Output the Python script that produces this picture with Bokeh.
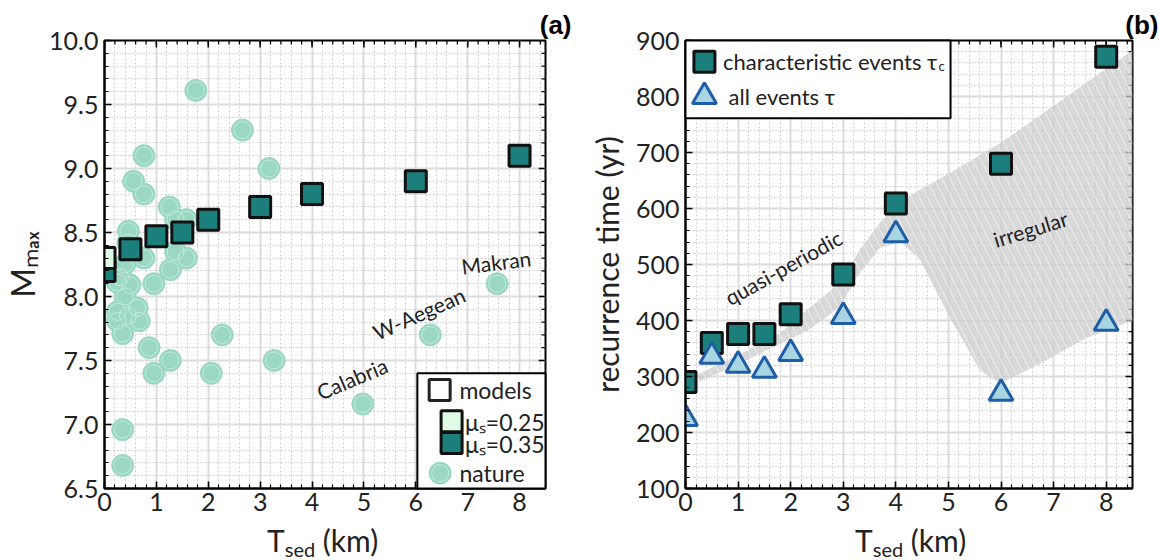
import math
import numpy as np
from bokeh.plotting import figure
from bokeh.layouts import row, column
from bokeh.models import Range1d, SingleIntervalTicker, Label, PrintfTickFormatter, Div
from bokeh.embed import file_html
from bokeh.resources import INLINE

# ---------------- data ----------------
# panel (a): models
model_T = [0, 0.5, 1, 1.5, 2, 3, 4, 6, 8]
mmax_mu035 = [8.2, 8.37, 8.47, 8.5, 8.6, 8.7, 8.8, 8.9, 9.1]
model_T_mu025 = [0]
mmax_mu025 = [8.3]

# panel (a): nature
nature_T = [1.76, 2.66, 0.76, 3.17, 0.56, 0.76, 1.25, 1.37, 1.58, 0.46,
            0.45, 1.37, 1.58, 0.76, 1.27, 0.39, 0.30, 0.95, 0.25, 0.49,
            0.40, 0.25, 0.63, 0.25, 0.67, 0.45, 0.35, 0.86, 1.27, 0.95,
            2.06, 2.27, 3.27, 4.98, 6.28, 7.57, 0.35, 0.35]
nature_M = [9.61, 9.30, 9.10, 9.00, 8.90, 8.80, 8.70, 8.60, 8.60, 8.51,
            8.42, 8.35, 8.30, 8.30, 8.21, 8.25, 8.15, 8.10, 8.11, 8.09,
            8.00, 7.88, 7.91, 7.81, 7.81, 7.85, 7.71, 7.60, 7.50, 7.40,
            7.40, 7.70, 7.50, 7.16, 7.70, 8.10, 6.96, 6.68]

# panel (b): recurrence times
tau_c = [290, 360, 376, 376, 411, 482, 609, 680, 871]
tau_all = [225, 336, 320, 311, 341, 407, 553, 270, 395]

# panel (b): shaded regime region (upper and lower boundary)
region_upper_T = [0.25, 1.0, 1.8, 2.45, 3.0, 3.3, 3.7, 4.2, 5.0, 6.0, 7.0, 8.0, 8.5]
region_upper_tau = [305, 338, 378, 430, 472, 525, 575, 620, 662, 718, 783, 850, 882]
region_lower_T = [8.5, 7.6, 6.75, 6.1, 5.9, 5.6, 5.0, 4.47, 4.1, 3.7, 3.26, 2.95, 2.33, 1.8, 1.0, 0.25]
region_lower_tau = [400, 368, 323, 293, 292, 311, 410, 507, 540, 530, 478, 425, 382, 358, 322, 290]

# ---------------- style ----------------
FONT = "Lato"
TXT = "#222222"
TEAL = "#1b7f7b"
PALE = "#dffbe6"
MINT = "#9ad8c3"
TRI_FILL = "#a9d4e1"
TRI_LINE = "#1f5ea6"

W1, W2, H, HL = 584, 575, 528, 32
FRAME = 448


def ticker(interval):
    return SingleIntervalTicker(interval=interval, num_minor_ticks=5)


def setup(p, xint, yint, yfmt=None):
    p.xaxis.ticker = ticker(xint)
    p.yaxis.ticker = ticker(yint)
    if yfmt:
        p.yaxis.formatter = PrintfTickFormatter(format=yfmt)
    for ax in p.axis:
        ax.major_label_text_font = FONT
        ax.major_label_text_font_size = "25px"
        ax.major_label_text_color = TXT
        ax.axis_line_width = 2
        ax.axis_line_color = "black"
        ax.major_tick_in = 7
        ax.major_tick_out = 0
        ax.minor_tick_in = 4
        ax.minor_tick_out = 0
        ax.major_tick_line_width = 1.5
        ax.minor_tick_line_width = 1.2
        ax.major_tick_line_color = "black"
        ax.minor_tick_line_color = "black"
    p.xaxis.major_label_standoff = 4
    p.yaxis.major_label_standoff = 6
    for g in (p.xgrid, p.ygrid):
        g.grid_line_color = "#dcdcdc"
        g.grid_line_width = 2
        g.minor_grid_line_color = "#cfcfcf"
        g.minor_grid_line_width = 1
        g.minor_grid_line_dash = "2 2"
    p.outline_line_color = "black"
    p.outline_line_width = 2
    p.background_fill_color = "white"
    p.border_fill_color = "white"
    # mirrored ticks on top and right frame edges
    x0, x1 = p.x_range.start, p.x_range.end
    y0, y1 = p.y_range.start, p.y_range.end
    dx = (x1 - x0) / FRAME
    dy = (y1 - y0) / FRAME
    for step, length, lw in ((xint / 5, 4, 1.2), (xint, 7, 1.5)):
        xs = np.arange(x0, x1 + 1e-9, step)
        p.segment(x0=xs, y0=np.full(len(xs), y1), x1=xs, y1=np.full(len(xs), y1 - length * dy),
                  line_color="black", line_width=lw)
    for step, length, lw in ((yint / 5, 4, 1.2), (yint, 7, 1.5)):
        ys = np.arange(y0, y1 + 1e-9, step)
        p.segment(x0=np.full(len(ys), x1), y0=ys, x1=np.full(len(ys), x1 - length * dx), y1=ys,
                  line_color="black", line_width=lw)
    p.title.align = "right"
    p.title.offset = -26
    p.title.standoff = 2
    p.title.text_font = "Liberation Sans"
    p.title.text_font_size = "26px"
    p.title.text_font_style = "bold"
    p.title.text_color = "black"


def lab(p, x, y, text, size, angle=0.0, align="left", baseline="middle", level="annotation"):
    p.add_layout(Label(x=x, y=y, text=text, angle=angle, text_align=align,
                       text_baseline=baseline, text_font=FONT, level=level,
                       text_font_size=f"{size}px", text_color=TXT))


def tsed_div(width, left):
    html = (f'<div style="position:relative;width:{width}px;height:{HL}px;">'
            f'<span style="position:absolute;left:{left}px;top:-4px;font-family:Lato;'
            f'font-size:30px;color:{TXT};line-height:32px;white-space:nowrap;">'
            f'T<sub style="font-size:20px;vertical-align:-5px;">sed</sub> (km)</span></div>')
    return Div(text=html, width=width, height=HL, margin=0)


# ---------------- panel (a) ----------------
pa = figure(width=W1, height=H, x_range=Range1d(0, 8.5), y_range=Range1d(6.5, 10.0),
            output_backend="svg", toolbar_location=None, title="(a)",
            min_border_left=97, min_border_right=39, min_border_top=40, min_border_bottom=40)
setup(pa, 1, 0.5, "%.1f")
pa.yaxis.axis_label = "Mₘₐₓ"
pa.yaxis.axis_label_text_font = FONT
pa.yaxis.axis_label_text_font_size = "32px"
pa.yaxis.axis_label_text_font_style = "normal"
pa.yaxis.axis_label_text_color = TXT
pa.yaxis.axis_label_standoff = 4

pa.scatter(nature_T, nature_M, marker="circle", size=22, fill_color=MINT, line_color=MINT)
pa.scatter(nature_T, nature_M, marker="circle", size=17, fill_color=None,
           line_color="#c4eadd", line_width=1)
pa.scatter(model_T, mmax_mu035, marker="square", size=21, fill_color=TEAL,
           line_color="#111111", line_width=3)
pa.scatter(model_T_mu025, mmax_mu025, marker="square", size=21, fill_color=PALE,
           line_color="#111111", line_width=3)

# region names
lab(pa, 7.55, 8.27, "Makran", 21, angle=math.radians(7), align="center")
lab(pa, 6.06, 7.87, "W-Aegean", 21, angle=math.radians(24), align="center")
lab(pa, 4.77, 7.36, "Calabria", 21, angle=math.radians(23), align="center")

# legend (a), drawn above the axes
OV = "overlay"
LA_BOX = (6.03, 8.5, 6.5, 7.40)
pa.quad(left=[LA_BOX[0]], right=[LA_BOX[1]], bottom=[LA_BOX[2]], top=[LA_BOX[3]],
        fill_color="white", line_color="black", line_width=2, level=OV)
pa.scatter([6.46], [7.27], marker="square", size=21, fill_color="white",
           line_color="#222222", line_width=3, level=OV)
lab(pa, 6.84, 7.27, "models", 23, level=OV)
pa.scatter([6.69], [6.855], marker="square", size=21, fill_color=TEAL,
           line_color="#111111", line_width=3, level=OV)
pa.scatter([6.69], [7.025], marker="square", size=21, fill_color=PALE,
           line_color="#111111", line_width=3, level=OV)
lab(pa, 6.95, 7.02, "μₛ=0.25", 23, level=OV)
lab(pa, 6.95, 6.85, "μₛ=0.35", 23, level=OV)
pa.scatter([6.47], [6.62], marker="circle", size=22, fill_color=MINT, line_color=MINT, level=OV)
pa.scatter([6.47], [6.62], marker="circle", size=17, fill_color=None,
           line_color="#c4eadd", line_width=1, level=OV)
lab(pa, 6.84, 6.62, "nature", 23, level=OV)

# ---------------- panel (b) ----------------
pb = figure(width=W2, height=H, x_range=Range1d(0, 8.5), y_range=Range1d(100, 900),
            output_backend="svg", toolbar_location=None, title="(b)",
            min_border_left=101, min_border_right=27, min_border_top=40, min_border_bottom=40)
setup(pb, 1, 100)
pb.yaxis.axis_label = "recurrence time (yr)"
pb.yaxis.axis_label_text_font = FONT
pb.yaxis.axis_label_text_font_size = "30px"
pb.yaxis.axis_label_text_font_style = "normal"
pb.yaxis.axis_label_text_color = TXT
pb.yaxis.axis_label_standoff = 8

pb.patch(region_upper_T + region_lower_T, region_upper_tau + region_lower_tau,
         fill_color="#cccccc", fill_alpha=0.75, line_color=None,
         hatch_pattern="\\", hatch_color="white", hatch_alpha=0.55,
         hatch_scale=16, hatch_weight=1)

pb.scatter(model_T, tau_c, marker="square", size=21, fill_color=TEAL,
           line_color="#111111", line_width=3)
pb.scatter(model_T, tau_all, marker="triangle", size=24, fill_color=TRI_FILL,
           line_color=TRI_LINE, line_width=3)

lab(pb, 1.86, 495, "quasi-periodic", 21, angle=math.radians(29), align="center")
lab(pb, 6.56, 564, "irregular", 21, angle=math.radians(17), align="center")

# legend (b), drawn above the axes
LB_BOX = (0.0, 5.04, 761, 900)
pb.quad(left=[LB_BOX[0]], right=[LB_BOX[1]], bottom=[LB_BOX[2]], top=[LB_BOX[3]],
        fill_color="white", line_color="black", line_width=2, level=OV)
pb.scatter([0.36], [862], marker="square", size=21, fill_color=TEAL,
           line_color="#111111", line_width=3, level=OV)
pb.scatter([0.36], [800], marker="triangle", size=24, fill_color=TRI_FILL,
           line_color=TRI_LINE, line_width=3, level=OV)
lab(pb, 4.79, 862, "characteristic events τ", 22, align="right", level=OV)
lab(pb, 4.81, 854, "c", 13, level=OV)
lab(pb, 0.82, 800, "all events τ", 22, level=OV)

layout = column(row(pa, pb), row(tsed_div(W1, 267), tsed_div(W2, 271)))
open("out.html", "w").write(file_html(layout, INLINE))
